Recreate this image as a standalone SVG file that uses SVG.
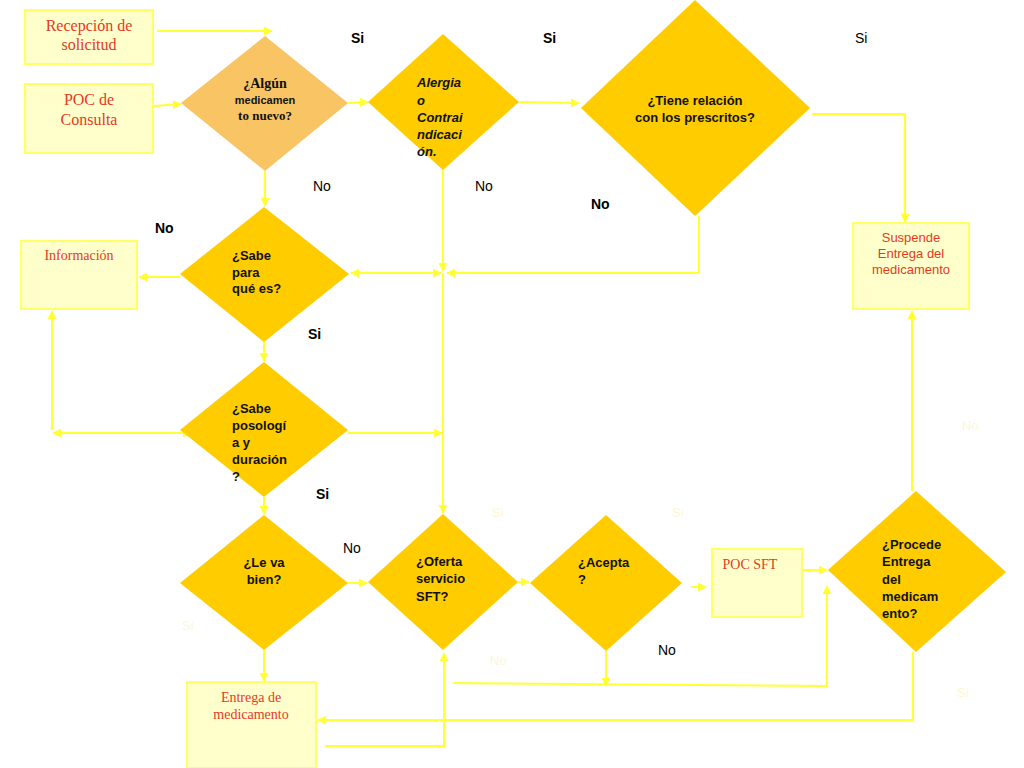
<svg xmlns="http://www.w3.org/2000/svg" width="1024" height="768" viewBox="0 0 1024 768">
<defs>
<marker id="arr" viewBox="0 0 10 10" refX="9" refY="5" markerWidth="9" markerHeight="9" markerUnits="userSpaceOnUse" orient="auto-start-reverse">
<path d="M0,0 L10,5 L0,10 Z" fill="#ffff33"/>
</marker>
<style>
.box{fill:#ffffcc;stroke:#ffff66;stroke-width:2}
.dia{fill:#ffcc00}
.dia1{fill:#f9c463}
.con{fill:none;stroke:#ffff33;stroke-width:2;marker-end:url(#arr)}
.con0{fill:none;stroke:#ffff33;stroke-width:2}
.dbl{fill:none;stroke:#ffff33;stroke-width:2;marker-start:url(#arr);marker-end:url(#arr)}
.rs{font-family:"Liberation Serif",serif;fill:#e63a1e;text-anchor:middle}
.rsans{font-family:"Liberation Sans",sans-serif;fill:#e63a1e;text-anchor:middle;font-size:13px}
.q{font-family:"Liberation Sans",sans-serif;font-weight:bold;font-size:13px;fill:#111}
.qi{font-family:"Liberation Sans",sans-serif;font-weight:bold;font-style:italic;font-size:13px;fill:#111}
.lb{font-family:"Liberation Sans",sans-serif;font-weight:bold;font-size:14px;fill:#000}
.ln{font-family:"Liberation Sans",sans-serif;font-size:14px;fill:#000}
.faint{font-family:"Liberation Sans",sans-serif;font-size:13px;fill:#fdf7d6}
</style>
</defs>
<rect width="1024" height="768" fill="#ffffff"/>

<g id="connectors">
<path class="con" d="M157,31 L272,31"/>
<path class="con" d="M153,106 L181,104"/>
<path class="con" d="M348,103 L368,102"/>
<path class="con" d="M519,102 L579,103"/>
<path class="con" d="M812,114 L905,114 L905,222"/>
<path class="con" d="M699,216 L699,273 L447,273"/>
<path class="con" d="M443,170 L443,271"/>
<path class="con" d="M443,273 L443,513"/>
<path class="dbl" d="M351,273 L441,273"/>
<path class="con" d="M265,171 L265,206"/>
<path class="con" d="M180,277 L139,277"/>
<path class="con" d="M264,342 L264,361"/>
<path class="dbl" d="M53,433 L191,433"/>
<path class="con" d="M52,430 L52,311"/>
<path class="con" d="M348,433 L442,433"/>
<path class="con" d="M264,497 L264,514"/>
<path class="con" d="M348,583 L367,583"/>
<path class="con" d="M264,650 L264,681"/>
<path class="con" d="M518,582 L529,582"/>
<path class="con" d="M691,587 L706,587"/>
<path class="con" d="M802,570 L827,570"/>
<path class="con" d="M606,651 L606,686"/>
<path class="con" d="M453,683 L827,686 L827,586"/>
<path class="con" d="M913,652 L913,720 L318,720"/>
<path class="con" d="M325,746 L444,746 L444,653"/>
<path class="con" d="M912,491 L912,311"/>
</g>

<g id="recepcion">
<rect class="box" x="25" y="10" width="128" height="54"/>
<text class="rs" font-size="16" x="89" y="31">Recepción de</text>
<text class="rs" font-size="16" x="89" y="50">solicitud</text>
</g>

<g id="poc-consulta">
<rect class="box" x="25" y="84" width="128" height="69"/>
<text class="rs" font-size="16" x="89" y="105">POC de</text>
<text class="rs" font-size="16" x="89" y="125">Consulta</text>
</g>

<g id="informacion">
<rect class="box" x="21" y="241" width="116" height="68"/>
<text class="rs" font-size="14" x="79" y="260">Información</text>
</g>

<g id="suspende">
<rect class="box" x="853" y="223" width="116" height="86"/>
<text class="rsans" x="911" y="242">Suspende</text>
<text class="rsans" x="911" y="258">Entrega del</text>
<text class="rsans" x="911" y="274">medicamento</text>
</g>

<g id="entrega">
<rect class="box" x="187" y="682" width="129" height="86"/>
<text class="rs" font-size="14" x="251" y="702">Entrega de</text>
<text class="rs" font-size="14" x="251" y="719">medicamento</text>
</g>

<g id="poc-sft">
<rect class="box" x="712" y="549" width="90" height="68"/>
<text class="rs" font-size="14" x="750" y="569">POC SFT</text>
</g>

<g id="d-algun">
<polygon class="dia1" points="265,36 348,103 265,171 181,103"/>
<text font-family="Liberation Serif, serif" font-weight="bold" font-size="14" fill="#111" text-anchor="middle" x="265" y="88">¿Algún</text>
<text font-family="Liberation Sans, sans-serif" font-weight="bold" font-size="11" fill="#111" text-anchor="middle" x="265" y="104">medicamen</text>
<text font-family="Liberation Serif, serif" font-weight="bold" font-size="13" fill="#111" text-anchor="middle" x="265" y="120">to nuevo?</text>
</g>

<g id="d-alergia">
<polygon class="dia" points="443,34 519,102 443,170 368,102"/>
<text class="qi" x="417" y="87">Alergia</text>
<text class="qi" x="417" y="105">o</text>
<text class="qi" x="417" y="122">Contrai</text>
<text class="qi" x="417" y="139">ndicaci</text>
<text class="qi" x="417" y="156">ón.</text>
</g>

<g id="d-tiene">
<polygon class="dia" points="695,0 810,108 695,216 581,108"/>
<text class="q" x="695" y="105" text-anchor="middle">¿Tiene relación</text>
<text class="q" x="695" y="122" text-anchor="middle">con los prescritos?</text>
</g>

<g id="d-sabe-para">
<polygon class="dia" points="264,207 349,274 264,342 180,274"/>
<text class="q" x="232" y="260">¿Sabe</text>
<text class="q" x="232" y="277">para</text>
<text class="q" x="232" y="293">qué es?</text>
</g>

<g id="d-sabe-posologia">
<polygon class="dia" points="264,362 348,430 264,497 180,430"/>
<text class="q" x="232" y="413">¿Sabe</text>
<text class="q" x="232" y="430">posologí</text>
<text class="q" x="232" y="447">a y</text>
<text class="q" x="232" y="464">duración</text>
<text class="q" x="232" y="481">?</text>
</g>

<g id="d-le-va-bien">
<polygon class="dia" points="264,515 348,583 264,650 180,583"/>
<text class="q" x="264" y="567" text-anchor="middle">¿Le va</text>
<text class="q" x="264" y="584" text-anchor="middle">bien?</text>
</g>

<g id="d-oferta">
<polygon class="dia" points="443,514 518,582 443,650 368,582"/>
<text class="q" x="416" y="566">¿Oferta</text>
<text class="q" x="416" y="583">servicio</text>
<text class="q" x="416" y="601">SFT?</text>
</g>

<g id="d-acepta">
<polygon class="dia" points="606,515 682,583 606,651 530,583"/>
<text class="q" x="578" y="567">¿Acepta</text>
<text class="q" x="578" y="584">?</text>
</g>

<g id="d-procede">
<polygon class="dia" points="916,491 1006,572 916,652 828,570"/>
<text class="q" x="882" y="549">¿Procede</text>
<text class="q" x="882" y="566">Entrega</text>
<text class="q" x="882" y="584">del</text>
<text class="q" x="882" y="601">medicam</text>
<text class="q" x="882" y="618">ento?</text>
</g>

<g id="labels">
<text class="lb" x="351" y="43">Si</text>
<text class="lb" x="543" y="43">Si</text>
<text class="ln" x="855" y="43">Si</text>
<text class="ln" x="313" y="191">No</text>
<text class="ln" x="475" y="191">No</text>
<text class="lb" x="591" y="209">No</text>
<text class="lb" x="155" y="233">No</text>
<text class="lb" x="308" y="339">Si</text>
<text class="lb" x="316" y="499">Si</text>
<text class="ln" x="343" y="553">No</text>
<text class="ln" x="658" y="655">No</text>
<text class="faint" x="962" y="430">No</text>
<text class="faint" x="492" y="517">Si</text>
<text class="faint" x="672" y="517">Si</text>
<text class="faint" x="182" y="630">Si</text>
<text class="faint" x="490" y="665">No</text>
<text class="faint" x="957" y="697">Si</text>
</g>
</svg>
